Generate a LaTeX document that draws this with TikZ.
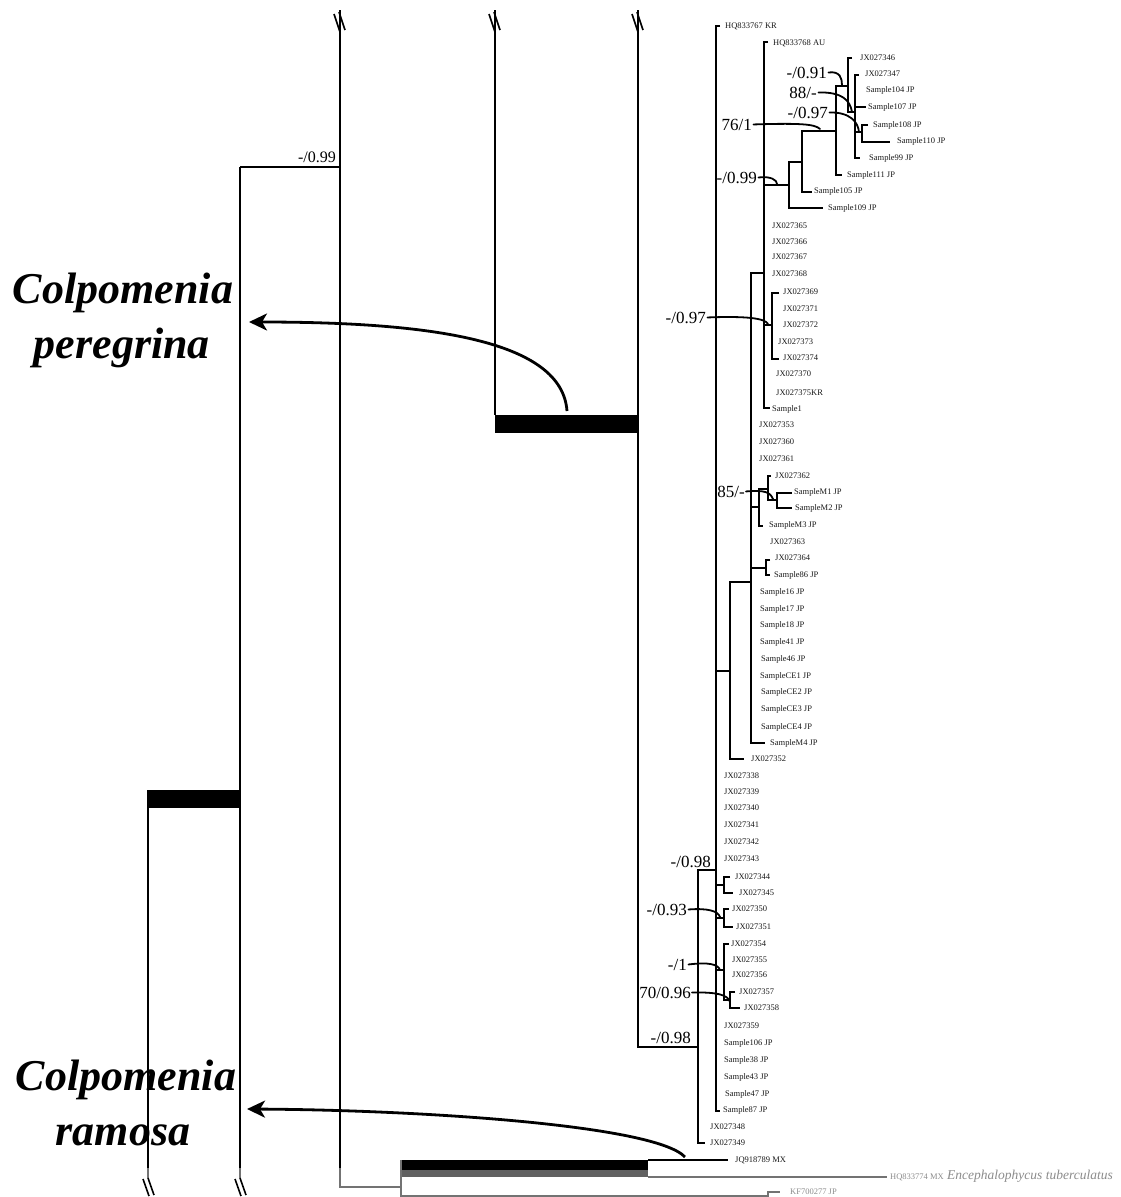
\documentclass[tikz,border=0pt]{standalone}
\usepackage{fontspec}
\setmainfont{Liberation Serif}
\usetikzlibrary{arrows.meta}
\begin{document}
\begin{tikzpicture}[x=1pt,y=-1pt,
  br/.style={line width=1.1pt,black},
  gbr/.style={line width=1.1pt,black!55},
  leaf/.style={anchor=west,inner sep=0pt,font=\fontsize{8.5}{9}\selectfont,text=black!90},
  gleaf/.style={leaf,text=black!45},
  sup/.style={anchor=base east,inner sep=0pt,font=\fontsize{17}{18}\selectfont},
  lead/.style={line width=1.8pt,line cap=round},
  brk/.style={line width=1.6pt},
  bigarrow/.style={line width=2.8pt,-{Stealth[length=18pt,width=17pt,inset=5pt]}},
  taxon/.style={anchor=base,inner sep=0pt,font=\fontsize{44}{50}\selectfont\bfseries\itshape}
]
\path[use as bounding box,fill=white] (0,0) rectangle (1120,1197);

% ---------- left (broken) backbone ----------
\draw[br] (340,10) -- (340,1168);
\draw[gbr] (340,1168) -- (340,1187) -- (401,1187);
\draw[br] (495,10) -- (495,415);
\draw[br] (638,10) -- (638,1047) -- (698,1047);
\fill (495,415) rectangle (638,433);
\draw[br] (240,167) -- (340,167);
\draw[br] (240,167) -- (240,1168);
\draw[gbr] (240,1168) -- (240,1178);
\fill (147,790) rectangle (241,808);
\draw[br] (148,808) -- (148,1168);
\draw[gbr] (148,1168) -- (148,1178);
\foreach \x in {340,495,638} {
  \draw[brk] (\x-6,14) -- (\x,32);
  \draw[brk] (\x-1,12) -- (\x+5,30);
}
\foreach \x in {148,240} {
  \draw[brk] (\x-5,1179) -- (\x+1,1196);
  \draw[brk] (\x,1178) -- (\x+6,1195);
}

% ---------- outgroup ----------
\fill (401,1160) rectangle (648,1169.5);
\fill[black!62] (401,1169.5) rectangle (648,1177);
\draw[br] (648,1160) -- (728,1160);
\draw[gbr] (401,1160) -- (401,1197);
\draw[gbr] (648,1177) -- (887,1177);
\draw[gbr] (401,1196) -- (768,1196) -- (768,1192) -- (780,1192);

% ---------- main clade ----------
\draw[br] (720,26) -- (716,26) -- (716,1111) -- (720,1111);
\draw[br] (716,870) -- (698,870) -- (698,1143) -- (705,1143);
\draw[br] (716,671) -- (730,671);
\draw[br] (751,582) -- (730,582) -- (730,759) -- (744,759);
\draw[br] (764,273) -- (751,273) -- (751,743) -- (765,743);
\draw[br] (751,507) -- (759,507);
\draw[br] (768,489) -- (759,489) -- (759,526) -- (763,526);
\draw[br] (771,476) -- (768,476) -- (768,500) -- (777,500);
\draw[br] (792,493) -- (777,493) -- (777,508) -- (792,508);
\draw[br] (751,568) -- (766,568);
\draw[br] (770,560) -- (766,560) -- (766,575) -- (770,575);
\draw[br] (768,42) -- (764,42) -- (764,408) -- (770,408);
\draw[br] (764,185) -- (789,185);
\draw[br] (802,162) -- (789,162) -- (789,208) -- (823,208);
\draw[br] (836,131) -- (802,131) -- (802,192) -- (812,192);
\draw[br] (848,86) -- (836,86) -- (836,175) -- (842,175);
\draw[br] (852,58) -- (848,58) -- (848,112) -- (855,112);
\draw[br] (859,75) -- (855,75) -- (855,158) -- (860,158);
\draw[br] (855,107) -- (866,107);
\draw[br] (855,132) -- (862,132);
\draw[br] (868,125) -- (862,125) -- (862,142) -- (890,142);
\draw[br] (764,325) -- (772,325);
\draw[br] (779,293) -- (772,293) -- (772,359) -- (779,359);
\draw[br] (716,885) -- (724,885);
\draw[br] (730,877) -- (724,877) -- (724,893) -- (733,893);
\draw[br] (716,918) -- (724,918);
\draw[br] (729,909) -- (724,909) -- (724,927) -- (733,927);
\draw[br] (716,970) -- (724,970);
\draw[br] (729,944) -- (724,944) -- (724,1000) -- (730,1000);
\draw[br] (735,992) -- (730,992) -- (730,1008) -- (740,1008);

% ---------- leaf labels ----------
\foreach \n/\x/\y/\t in {
 l01/725/26/HQ833767 KR, l02/773/43/HQ833768 AU, l03/860/58/JX027346,
 l04/865/74/JX027347, l05/866/90/Sample104 JP, l06/868/107/Sample107 JP,
 l07/873/125/Sample108 JP, l08/897/141/Sample110 JP, l09/869/158/Sample99 JP,
 l10/847/175/Sample111 JP, l11/814/191/Sample105 JP, l12/828/208/Sample109 JP,
 l13/772/226/JX027365, l14/772/242/JX027366, l15/772/257/JX027367,
 l16/772/274/JX027368, l17/783/292/JX027369, l18/783/309/JX027371,
 l19/783/325/JX027372, l20/778/342/JX027373, l21/783/358/JX027374,
 l22/776/374/JX027370, l23/776/393/JX027375KR, l24/772/409/Sample1,
 l25/759/425/JX027353, l26/759/442/JX027360, l27/759/459/JX027361,
 l28/775/476/JX027362, l29/794/492/SampleM1 JP, l30/795/508/SampleM2 JP,
 l31/769/525/SampleM3 JP, l32/770/542/JX027363, l33/775/558/JX027364,
 l34/774/575/Sample86 JP, l35/760/592/Sample16 JP, l36/760/609/Sample17 JP,
 l37/760/625/Sample18 JP, l38/760/642/Sample41 JP, l39/761/659/Sample46 JP,
 l40/760/676/SampleCE1 JP, l41/761/692/SampleCE2 JP, l42/761/709/SampleCE3 JP,
 l43/761/727/SampleCE4 JP, l44/770/743/SampleM4 JP, l45/751/759/JX027352,
 l46/724/776/JX027338, l47/724/792/JX027339, l48/724/808/JX027340,
 l49/724/825/JX027341, l50/724/842/JX027342, l51/724/859/JX027343,
 l52/735/877/JX027344, l53/739/893/JX027345, l54/732/909/JX027350,
 l55/736/927/JX027351, l56/731/944/JX027354, l57/732/960/JX027355,
 l58/732/975/JX027356, l59/739/992/JX027357, l60/744/1008/JX027358,
 l61/724/1026/JX027359, l62/724/1043/Sample106 JP, l63/724/1060/Sample38 JP,
 l64/724/1077/Sample43 JP, l65/725/1094/Sample47 JP, l66/723/1110/Sample87 JP,
 l67/710/1127/JX027348, l68/710/1143/JX027349, l69/735/1160/JQ918789 MX}
 {\node[leaf] (\n) at (\x,\y) {\t};}
\node[gleaf] (l70) at (890,1177) {HQ833774 MX};
\node[gleaf,font=\fontsize{13.5}{15}\selectfont\itshape] (l71) at (947,1176) {Encephalophycus tuberculatus};
\node[gleaf] (l72) at (790,1192) {KF700277 JP};

% ---------- support values ----------
\node[sup] (s1) at (827,78) {-/0.91};
\node[sup] (s2) at (817,98) {88/-};
\node[sup] (s3) at (828,118) {-/0.97};
\node[sup] (s4) at (752,130) {76/1};
\node[sup] (s5) at (757,183) {-/0.99};
\node[sup] (s6) at (706,323) {-/0.97};
\node[sup] (s7) at (745,497) {85/-};
\node[sup] (s8) at (711,867) {-/0.98};
\node[sup] (s9) at (687,915) {-/0.93};
\node[sup] (s10) at (687,970) {-/1};
\node[sup] (s11) at (691,998) {70/0.96};
\node[sup] (s12) at (691,1043) {-/0.98};
\node[sup,font=\fontsize{16}{17}\selectfont] (s13) at (336,162) {-/0.99};

\draw[lead] ([xshift=1.5pt]s1.east) .. controls (840,71) and (842,78) .. (842,85);
\draw[lead] ([xshift=1.5pt]s2.east) .. controls (842,92) and (850,100) .. (852,112);
\draw[lead] ([xshift=1.5pt]s3.east) .. controls (850,112) and (858,122) .. (859,132);
\draw[lead] ([xshift=1.5pt]s4.east) .. controls (800,123) and (815,124) .. (820,129);
\draw[lead] ([xshift=1.5pt]s5.east) .. controls (771,176) and (777,180) .. (777,184);
\draw[lead] ([xshift=1.5pt]s6.east) .. controls (745,316) and (765,318) .. (768,324);
\draw[lead] ([xshift=1pt]s7.east) .. controls (765,490) and (770,492) .. (773,499);
\draw[lead] ([xshift=1.5pt]s9.east) .. controls (708,908) and (718,911) .. (720,917);
\draw[lead] ([xshift=1.5pt]s10.east) .. controls (708,962) and (718,964) .. (720,970);
\draw[lead] ([xshift=1pt]s11.east) .. controls (718,992) and (728,995) .. (730,1002);

% ---------- taxon labels and arrows ----------
\node[taxon] (cp1) at (123,303) {Colpomenia};
\node[taxon] (cp2) at (122,358) {peregrina};
\node[taxon] (cr1) at (126,1090) {Colpomenia};
\node[taxon] (cr2) at (123,1145) {ramosa};

\coordinate (pa0) at (567,411);
\coordinate (pa1) at (249,322);
\draw[bigarrow] (pa0) .. controls (562,340) and (430,322) .. (pa1);
\coordinate (ra0) at (685,1157);
\coordinate (ra1) at (247,1109);
\draw[bigarrow] (ra0) .. controls (655,1125) and (420,1110) .. (ra1);
\end{tikzpicture}
\end{document}
